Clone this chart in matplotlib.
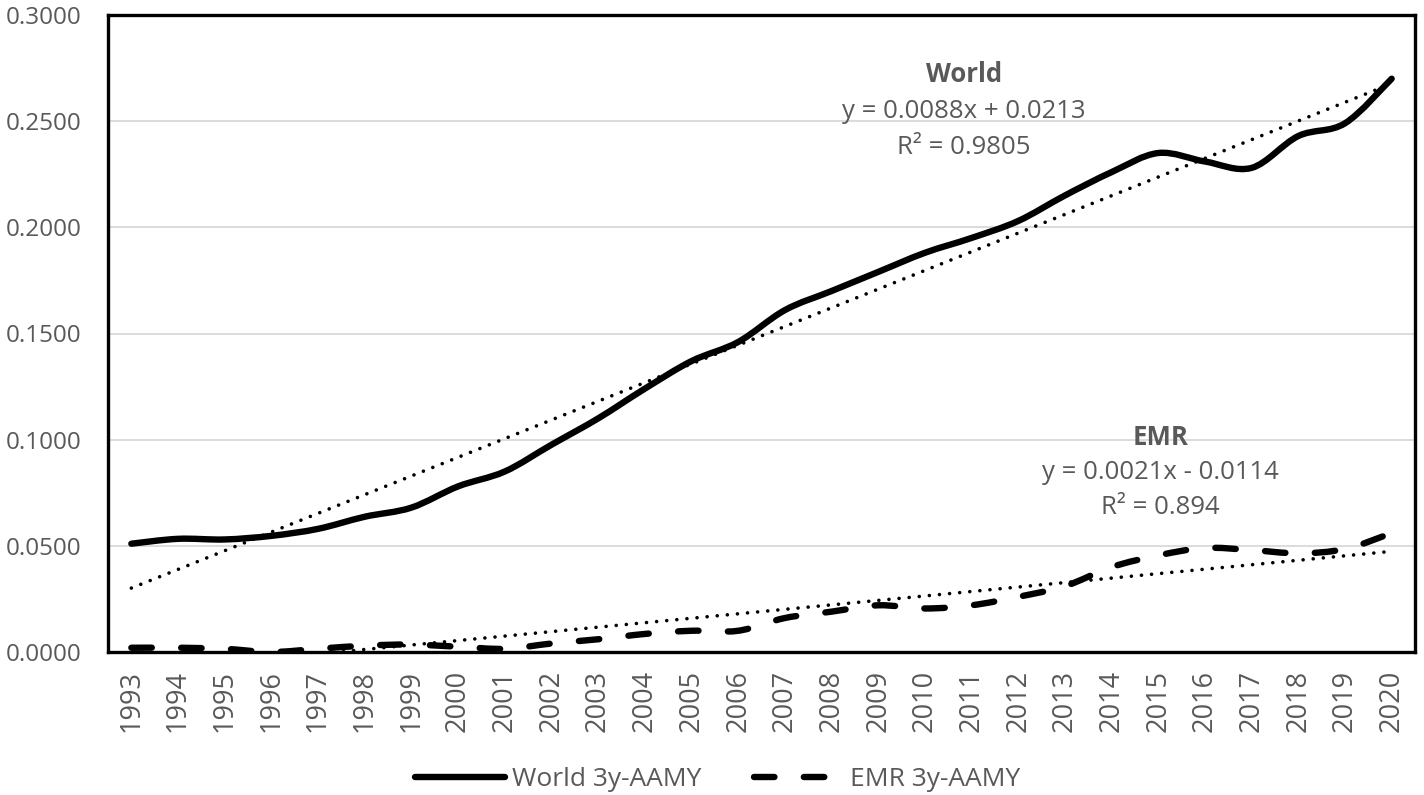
import numpy as np
import matplotlib
matplotlib.use("Agg")
import matplotlib.pyplot as plt
from matplotlib.path import Path
from matplotlib.patches import PathPatch
from matplotlib.lines import Line2D

plt.rcParams['font.family'] = ['Open Sans', 'DejaVu Sans']

years = list(range(1993, 2021))
world = [0.0510, 0.0533, 0.0530, 0.0547, 0.0580, 0.0637, 0.0680, 0.0780, 0.0850,
         0.0976, 0.1100, 0.1240, 0.1370, 0.1460, 0.1610, 0.1700, 0.1790, 0.1880,
         0.1950, 0.2030, 0.2150, 0.2260, 0.2350, 0.2310, 0.2280, 0.2430, 0.2490,
         0.2700]
emr = [0.0020, 0.0020, 0.0015, 0.0000, 0.0015, 0.0030, 0.0035, 0.0025, 0.0015,
       0.0040, 0.0060, 0.0085, 0.0100, 0.0100, 0.0160, 0.0190, 0.0220, 0.0205,
       0.0220, 0.0260, 0.0310, 0.0400, 0.0455, 0.0490, 0.0480, 0.0465, 0.0485,
       0.0560]
world_fit = (0.0088, 0.0213)
world_r2 = "0.9805"
emr_fit = (0.0021, -0.0114)
emr_r2 = "0.894"
yticks = [0.0, 0.05, 0.10, 0.15, 0.20, 0.25, 0.30]

GRAY = '#595959'
LW = 4.6
DASH = (0, (3.2, 4.6))
DOT = (0, (0.01, 2.8))


def smooth_path(xs, ys):
    xs = np.asarray(xs, float)
    ys = np.asarray(ys, float)
    pts = np.column_stack([xs, ys])
    n = len(pts)
    verts = [pts[0]]
    codes = [Path.MOVETO]
    for i in range(n - 1):
        p0 = pts[i - 1] if i > 0 else pts[i]
        p1 = pts[i]
        p2 = pts[i + 1]
        p3 = pts[i + 2] if i + 2 < n else pts[i + 1]
        c1 = p1 + (p2 - p0) / 6.0
        c2 = p2 - (p3 - p1) / 6.0
        verts += [c1, c2, p2]
        codes += [Path.CURVE4] * 3
    return Path(verts, codes)


fig = plt.figure(figsize=(14.24, 7.95), dpi=100)
ax = fig.add_axes([108 / 1424, 143 / 795, 1307 / 1424, 637 / 795])

x = np.arange(len(years))
ax.set_xlim(-0.5, len(years) - 0.5)
ax.set_ylim(0, 0.30)

for v in yticks[1:-1]:
    ax.axhline(v, color='#d9d9d9', lw=1.3, zorder=1)

# trendlines
xt = np.array([x[0], x[-1]], float)
ax.plot(xt, world_fit[0] * (xt + 1) + world_fit[1], color='black', lw=2.6,
        linestyle=DOT, dash_capstyle='round', zorder=3)
ax.plot(xt, emr_fit[0] * (xt + 1) + emr_fit[1], color='black', lw=2.6,
        linestyle=DOT, dash_capstyle='round', zorder=3)

# smoothed series
pw = PathPatch(smooth_path(x, world), fill=False, edgecolor='black', lw=LW,
               capstyle='round', joinstyle='round', zorder=4)
ax.add_patch(pw)
pe = PathPatch(smooth_path(x, emr), fill=False, edgecolor='black', lw=LW,
               linestyle=DASH, capstyle='round', joinstyle='round', zorder=4)
ax.add_patch(pe)

ax.set_xticks(x)
ax.set_xticklabels([str(y) for y in years], rotation=90, fontsize=19.5, color=GRAY)
ax.set_yticks(yticks)
ax.set_yticklabels([f"{v:.4f}" for v in yticks], fontsize=17.5, color=GRAY)
ax.tick_params(axis='both', length=0)
ax.tick_params(axis='y', pad=19)
ax.tick_params(axis='x', pad=13)
for s in ax.spines.values():
    s.set_linewidth(2.4)
    s.set_color('black')

# annotations
fs = 18.5
ax.text(17.83, 0.2722, "World", ha='center', va='center', fontsize=fs,
        fontweight='bold', color=GRAY)
ax.text(17.83, 0.2547, "y = 0.0088x + 0.0213", ha='center', va='center',
        fontsize=fs, color=GRAY)
ax.text(17.83, 0.2377, "R² = " + world_r2, ha='center', va='center',
        fontsize=fs, color=GRAY)
ax.text(22.05, 0.1010, "EMR", ha='center', va='center', fontsize=fs,
        fontweight='bold', color=GRAY)
ax.text(22.05, 0.0844, "y = 0.0021x - 0.0114", ha='center', va='center',
        fontsize=fs, color=GRAY)
ax.text(22.05, 0.0679, "R² = " + emr_r2, ha='center', va='center',
        fontsize=fs, color=GRAY)

handles = [
    Line2D([0], [0], color='black', lw=LW, solid_capstyle='round'),
    Line2D([0], [0], color='black', lw=LW, linestyle=DASH,
           dash_capstyle='round'),
]
leg = fig.legend(handles, ["World 3y-AAMY", "EMR 3y-AAMY"], ncol=2,
                 loc='center', bbox_to_anchor=(718 / 1424, 1 - 780 / 795),
                 frameon=False, fontsize=19, handlelength=3.4,
                 handletextpad=0.25, columnspacing=2.0)
for t in leg.get_texts():
    t.set_color(GRAY)

fig.savefig("out.png", dpi=100, facecolor='white')
